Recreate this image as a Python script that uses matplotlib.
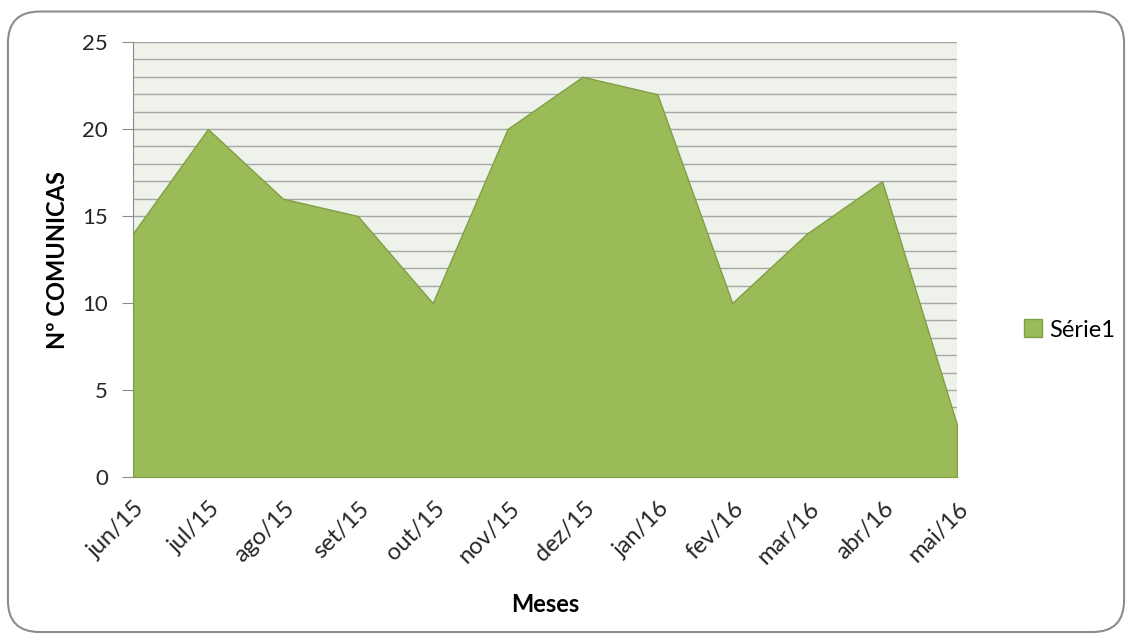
import numpy as np
import matplotlib
matplotlib.use('Agg')
import matplotlib.pyplot as plt
import matplotlib.transforms as mtransforms
from matplotlib.patches import FancyBboxPatch

plt.rcParams['font.family'] = ['Lato', 'DejaVu Sans']

meses = ['jun/15', 'jul/15', 'ago/15', 'set/15', 'out/15', 'nov/15',
         'dez/15', 'jan/16', 'fev/16', 'mar/16', 'abr/16', 'mai/16']
comunicas = [14, 20, 16, 15, 10, 20, 23, 22, 10, 14, 17, 3]

fig = plt.figure(figsize=(11.32, 6.41), dpi=100)
fig.patch.set_facecolor('white')

# moldura arredondada
borda = FancyBboxPatch((0.007, 0.014), 0.986, 0.968, boxstyle='round,pad=0,rounding_size=0.028',
                       transform=fig.transFigure, facecolor='none', edgecolor='#8c8c8c', linewidth=1.5,
                       mutation_aspect=1132 / 641)
fig.patches.append(borda)

ax = fig.add_axes([0.1175, 0.2558, 0.7279, 0.6787])
ax.set_facecolor('#eff2ea')
x = np.arange(len(meses))
ax.fill_between(x, comunicas, 0, facecolor='#9bbb59', edgecolor='#7f9f45', linewidth=1.0,
                label='Série1', zorder=3)

ax.set_xlim(0, len(meses) - 1)
ax.set_ylim(0, 25)
ax.set_yticks(range(0, 26, 5))
ax.set_yticks(range(0, 26, 1), minor=True)
ax.grid(axis='y', which='both', color='#a6a6a6', linewidth=1.0, zorder=1)
ax.set_axisbelow(True)
ax.tick_params(axis='y', which='major', length=8, color='#8c8c8c', labelsize=16, pad=10, labelcolor='#262626')
ax.tick_params(axis='y', which='minor', length=0)
ax.tick_params(axis='x', length=0, labelsize=17, pad=15, labelcolor='#262626')

ax.set_xticks(x)
ax.set_xticklabels(meses, rotation=45, ha='right', rotation_mode='anchor')
desloc = mtransforms.ScaledTranslation(1 / 100, 0, fig.dpi_scale_trans)
for lbl in ax.get_xticklabels():
    lbl.set_transform(lbl.get_transform() + desloc)

for s in ['top', 'right']:
    ax.spines[s].set_visible(False)
ax.spines['left'].set_color('#8c8c8c')
ax.spines['bottom'].set_color('#8c8c8c')

ax.set_xlabel('Meses', fontsize=17, fontweight='bold')
ax.set_ylabel('Nº COMUNICAS', fontsize=17, fontweight='bold')
ax.xaxis.set_label_coords(0.5, -0.267)
ax.yaxis.set_label_coords(-0.078, 0.5)

ax.legend(loc='center left', bbox_to_anchor=(1.055, 0.338), frameon=False, fontsize=17,
          handlelength=0.8, handleheight=0.8, handletextpad=0.3)

fig.savefig('out.png', dpi=100)
